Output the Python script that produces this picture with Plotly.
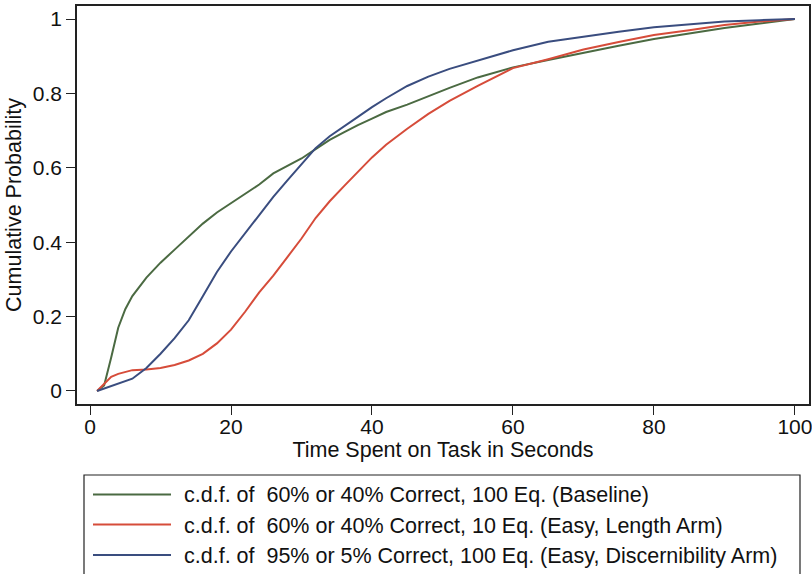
import plotly.graph_objects as go

time_s = [1, 2, 3, 4, 5, 6, 8, 10, 12, 14, 16, 18, 20, 22, 24, 26, 28, 30, 32, 34, 36, 38,
          40, 42, 45, 48, 51, 55, 60, 65, 70, 75, 80, 85, 90, 95, 100]

cdf_baseline = [0, 0.015, 0.09, 0.17, 0.22, 0.255, 0.305, 0.345, 0.38, 0.415, 0.45, 0.48,
                0.505, 0.53, 0.555, 0.585, 0.605, 0.625, 0.65, 0.675, 0.695, 0.715,
                0.732, 0.75, 0.77, 0.793, 0.815, 0.843, 0.87, 0.89, 0.91, 0.928,
                0.946, 0.961, 0.976, 0.988, 1.0]

cdf_length = [0, 0.02, 0.038, 0.046, 0.052, 0.056, 0.058, 0.062, 0.07, 0.082, 0.1, 0.128,
              0.165, 0.213, 0.265, 0.31, 0.36, 0.41, 0.465, 0.51, 0.55, 0.59,
              0.628, 0.662, 0.705, 0.745, 0.78, 0.82, 0.868, 0.892, 0.918, 0.938,
              0.957, 0.97, 0.984, 0.993, 1.0]

cdf_discern = [0, 0.007, 0.014, 0.02, 0.027, 0.033, 0.062, 0.1, 0.142, 0.19, 0.255, 0.32,
               0.375, 0.425, 0.475, 0.522, 0.566, 0.61, 0.653, 0.685, 0.71, 0.737,
               0.763, 0.787, 0.82, 0.845, 0.866, 0.888, 0.916, 0.939, 0.953, 0.966,
               0.978, 0.986, 0.993, 0.997, 1.0]

series_names = [
    "c.d.f. of  60% or 40% Correct, 100 Eq. (Baseline)",
    "c.d.f. of  60% or 40% Correct, 10 Eq. (Easy, Length Arm)",
    "c.d.f. of  95% or 5% Correct, 100 Eq. (Easy, Discernibility Arm)",
]
series_colors = ["#4b6a42", "#d64c3a", "#3a4d7f"]
series_values = [cdf_baseline, cdf_length, cdf_discern]

x_ticks = [0, 20, 40, 60, 80, 100]
y_ticks = [0, 0.2, 0.4, 0.6, 0.8, 1]
y_ticklabels = ["0", "0.2", "0.4", "0.6", "0.8", "1"]

FONT = "Liberation Sans, Arial, Helvetica, sans-serif"
TXT = "#111"

fig = go.Figure()
for name, color, vals in zip(series_names, series_colors, series_values):
    fig.add_trace(go.Scatter(x=time_s, y=vals, mode="lines", name=name,
                             line=dict(color=color, width=2), showlegend=False))

W, H = 812, 574
ml, mr, mt, mb = 77, 3, 6, 170
pw, ph = W - ml - mr, H - mt - mb

def px_x(p):
    return (p - ml) / pw

def px_y(p):
    return (H - mb - p) / ph

# legend box (drawn manually to match the reference's long key lines)
fig.add_shape(type="rect", xref="paper", yref="paper",
              x0=px_x(84), x1=px_x(800), y0=px_y(576), y1=px_y(475),
              line=dict(color="#222", width=1.2), fillcolor="rgba(0,0,0,0)")
row_y = [494.5, 524.5, 555]
for name, color, ry in zip(series_names, series_colors, row_y):
    fig.add_shape(type="line", xref="paper", yref="paper",
                  x0=px_x(93), x1=px_x(171), y0=px_y(ry), y1=px_y(ry),
                  line=dict(color=color, width=2))
    fig.add_annotation(xref="paper", yref="paper", x=px_x(182), y=px_y(ry + 1),
                       text=name, showarrow=False, xanchor="left", yanchor="middle",
                       font=dict(family=FONT, size=21.5, color=TXT))

fig.update_layout(
    width=W, height=H,
    margin=dict(l=ml, r=mr, t=mt, b=mb, autoexpand=False),
    paper_bgcolor="white", plot_bgcolor="white",
    font=dict(family=FONT, size=21, color=TXT),
    xaxis=dict(range=[-1.85, 102], tickvals=x_ticks, ticks="outside", ticklen=9,
               tickwidth=1.2, tickcolor="#222", showline=True, linecolor="#222",
               linewidth=1.5, mirror=True, showgrid=False, zeroline=False,
               automargin=False, tickfont=dict(size=21), ticklabeloverflow="allow",
               ticklabelstandoff=-6,
               title=dict(text="Time Spent on Task in Seconds", font=dict(size=21.5), standoff=1)),
    yaxis=dict(range=[-0.035, 1.035], tickvals=y_ticks, ticktext=y_ticklabels,
               ticks="outside", ticklen=9, tickwidth=1.2, tickcolor="#222",
               showline=True, linecolor="#222", linewidth=1.5, mirror=True,
               showgrid=False, zeroline=False, automargin=False, tickfont=dict(size=21),
               title=dict(text="Cumulative Probability", font=dict(size=21.5), standoff=5)),
)

fig.write_html("out.html", config={"displayModeBar": False})

with open("out.html", "r", encoding="utf-8") as f:
    html = f.read()
html = html.replace("<body>", '<body style="margin:0;padding:0;overflow:hidden">', 1)
with open("out.html", "w", encoding="utf-8") as f:
    f.write(html)
